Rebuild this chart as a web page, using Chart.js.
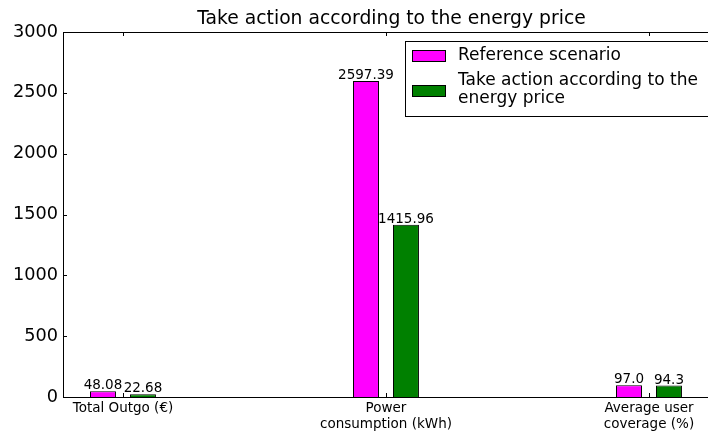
<!DOCTYPE html>
<html>
<head>
<meta charset="utf-8">
<script src="https://cdn.jsdelivr.net/npm/chart.js@4"></script>
<style>
  html, body { margin: 0; padding: 0; background: #fff; overflow: hidden; }
  #wrap { width: 708px; height: 432px; overflow: hidden; }
</style>
</head>
<body>
<div id="wrap"><canvas id="grafico" width="722" height="432"></canvas></div>
<script>
// dados
const categorias = ["Total Outgo (€)", ["Power", "consumption (kWh)"], ["Average user", "coverage (%)"]];
const referencia = [48.08, 2597.39, 97.0];
const acao = [22.68, 1415.96, 94.3];
const nomesSeries = ["Reference scenario", ["Take action according to the", "energy price"]];
const yTicks = [0, 500, 1000, 1500, 2000, 2500, 3000];

const corRef = "#ff00ff";
const corAcao = "#008000";

Chart.defaults.font.family = "'DejaVu Sans', sans-serif";
Chart.defaults.color = "#000";

function fmt(v) {
  return Number.isInteger(v) ? v.toFixed(1) : String(v);
}

// moldura + ticks para dentro (estilo matplotlib)
const moldura = {
  id: "moldura",
  afterDatasetsDraw(chart) {
    const { ctx, chartArea: a, scales } = chart;
    ctx.save();
    ctx.strokeStyle = "#000";
    ctx.lineWidth = 1;
    ctx.strokeRect(a.left + 0.5, a.top + 0.5, a.right - a.left - 1, a.bottom - a.top);
    ctx.beginPath();
    yTicks.forEach((t) => {
      const y = Math.round(scales.y.getPixelForValue(t)) + 0.5;
      ctx.moveTo(a.left, y); ctx.lineTo(a.left + 4, y);
      ctx.moveTo(a.right, y); ctx.lineTo(a.right - 4, y);
    });
    categorias.forEach((c, i) => {
      const x = Math.round(scales.x.getPixelForValue(i)) + 0.5;
      ctx.moveTo(x, a.bottom); ctx.lineTo(x, a.bottom - 4);
      ctx.moveTo(x, a.top); ctx.lineTo(x, a.top + 4);
    });
    ctx.stroke();

    // rotulos de valor
    ctx.font = "13.5px 'DejaVu Sans'";
    ctx.fillStyle = "#000";
    ctx.textAlign = "center";
    ctx.textBaseline = "alphabetic";
    chart.data.datasets.forEach((ds, di) => {
      const meta = chart.getDatasetMeta(di);
      meta.data.forEach((bar, i) => {
        ctx.fillText(fmt(ds.data[i].y), bar.x, bar.y - 2);
      });
    });
    ctx.restore();
  },
  afterDraw(chart) {
    // legenda
    const { ctx, chartArea: a } = chart;
    const left = 405, top = a.top + 9, right = a.right - 9, h = 75;
    ctx.save();
    ctx.fillStyle = "#fff";
    ctx.fillRect(left, top, right - left, h);
    ctx.strokeStyle = "#000";
    ctx.lineWidth = 1;
    ctx.strokeRect(left + 0.5, top + 0.5, right - left, h);
    const cores = [corRef, corAcao];
    const centros = [top + 15, top + 50];
    ctx.font = "17px 'DejaVu Sans'";
    ctx.textAlign = "left";
    ctx.textBaseline = "middle";
    nomesSeries.forEach((nome, i) => {
      const linhas = Array.isArray(nome) ? nome : [nome];
      const cy = centros[i];
      ctx.fillStyle = cores[i];
      ctx.fillRect(left + 7, cy - 6, 34, 12);
      ctx.strokeStyle = "#000";
      ctx.strokeRect(left + 7.5, cy - 5.5, 33, 11);
      ctx.fillStyle = "#000";
      const y0 = cy - (linhas.length - 1) * 9 - (linhas.length > 1 ? 1 : 0);
      linhas.forEach((l, k) => ctx.fillText(l, left + 53, y0 + k * 18));
    });
    ctx.restore();
  },
};

const ctx = document.getElementById("grafico").getContext("2d");
new Chart(ctx, {
  type: "bar",
  data: {
    datasets: [
      {
        label: "Reference scenario",
        data: referencia.map((v, i) => ({ x: i, y: v })),
        backgroundColor: corRef,
        borderColor: "#000",
        borderWidth: 1,
      },
      {
        label: "Take action according to the energy price",
        data: acao.map((v, i) => ({ x: i, y: v })),
        backgroundColor: corAcao,
        borderColor: "#000",
        borderWidth: 1,
      },
    ],
  },
  options: {
    responsive: false,
    animation: false,
    layout: { padding: { left: 0, right: 2, top: 0, bottom: 0 } },
    datasets: { bar: { categoryPercentage: 0.304, barPercentage: 0.65 } },
    plugins: {
      legend: { display: false },
      tooltip: { enabled: false },
      title: {
        display: true,
        fullSize: false,
        text: "Take action according to the energy price",
        color: "#000",
        font: { size: 18.75, weight: "normal", lineHeight: 1 },
        padding: { top: 10, bottom: 3.25 },
      },
    },
    scales: {
      x: {
        type: "linear",
        offset: false,
        min: -0.228,
        max: 2.27,
        grid: { display: false, drawTicks: false, offset: false },
        border: { display: false },
        afterBuildTicks: (s) => { s.ticks = categorias.map((c, i) => ({ value: i })); },
        afterFit: (s) => { s.height = 35; },
        ticks: {
          autoSkip: false,
          maxRotation: 0,
          padding: 3,
          color: "#000",
          font: { size: 13.5, lineHeight: 1.2 },
          callback: (v, i) => categorias[i],
        },
      },
      y: {
        min: 0,
        max: 3000,
        grid: { display: false, drawTicks: false },
        border: { display: false },
        afterBuildTicks: (s) => { s.ticks = yTicks.map((t) => ({ value: t })); },
        afterFit: (s) => { s.width = 63; },
        ticks: { padding: 5, color: "#000", font: { size: 17.7 }, callback: (v) => String(v) },
      },
    },
  },
  plugins: [moldura],
});
</script>
</body>
</html>
